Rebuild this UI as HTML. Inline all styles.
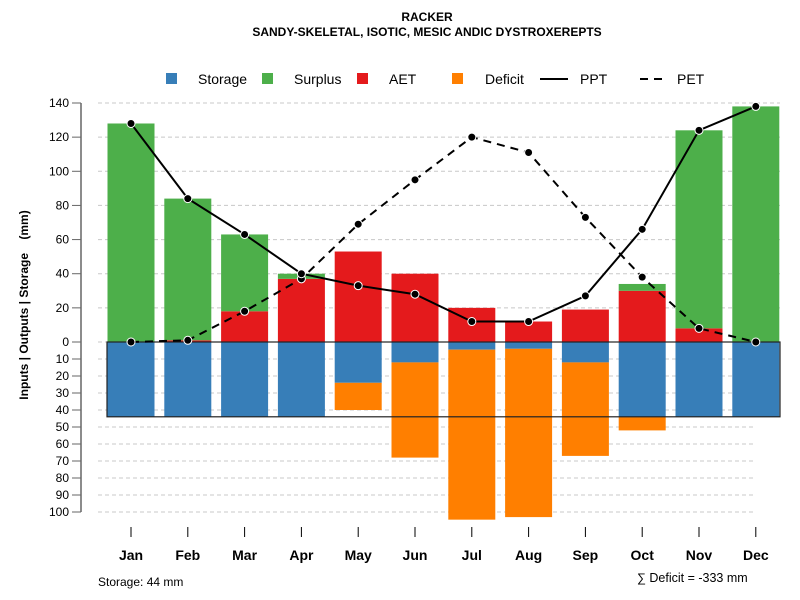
<!DOCTYPE html>
<html><head><meta charset="utf-8"><style>
body{margin:0;background:#fff}
svg{font-family:"Liberation Sans",sans-serif;display:block}
</style></head><body>
<svg id="chart" width="800" height="600" viewBox="0 0 800 600">
<text x="427" y="21" text-anchor="middle" font-size="12" font-weight="bold">RACKER</text>
<text x="427" y="36" text-anchor="middle" font-size="12" font-weight="bold">SANDY-SKELETAL, ISOTIC, MESIC ANDIC DYSTROXEREPTS</text>
<g font-size="14">
<rect x="166" y="73" width="11" height="11" fill="#377EB8"/>
<text x="198" y="84">Storage</text>
<rect x="262" y="73" width="11" height="11" fill="#4DAF4A"/>
<text x="294" y="84">Surplus</text>
<rect x="357" y="73" width="11" height="11" fill="#E41A1C"/>
<text x="389" y="84">AET</text>
<rect x="452" y="73" width="11" height="11" fill="#FF7F00"/>
<text x="485" y="84">Deficit</text>
<line x1="540" y1="79" x2="568" y2="79" stroke="#000" stroke-width="2"/>
<text x="580" y="84">PPT</text>
<line x1="640" y1="79" x2="668" y2="79" stroke="#000" stroke-width="2" stroke-dasharray="8,6"/>
<text x="677" y="84">PET</text>
</g>
<g id="grid"></g><g id="bars"></g><g id="axes"></g><g id="lines"></g>
<text transform="translate(28,305) rotate(-90)" text-anchor="middle" font-size="12" font-weight="bold" style="white-space:pre" xml:space="preserve">Inputs | Outputs | Storage    (mm)</text>
<text x="98" y="586" font-size="12">Storage: 44 mm</text>
<text x="637" y="582" font-size="12.5">∑ Deficit = -333 mm</text>
</svg>
<script>
const months=["Jan","Feb","Mar","Apr","May","Jun","Jul","Aug","Sep","Oct","Nov","Dec"];
const ppt=[128,84,63,40,33,28,12,12,27,66,124,138];
const pet=[0,1,18,37,69,95,120,111,73,38,8,0];
const aet=[0,1,18,37,53,40,20,12,19,30,8,0];
const surplus=[128,83,45,3,0,0,0,0,0,4,116,138];
const storage=[44,44,44,44,24,12,4.5,4,12,44,44,44];
const deficit=[0,0,0,0,16,56,100,99,55,8,0,0];
const topTicks=[0,20,40,60,80,100,120,140];
const botTicks=[10,20,30,40,50,60,70,80,90,100];
const storageCap=44;
const NS="http://www.w3.org/2000/svg";
const y0=342,k=239/140;
const yUp=v=>y0-v*k, yDn=v=>y0+v*1.7;
const xc=i=>131+i*56.8, bw=47;
function mk(t,a,p){const e=document.createElementNS(NS,t);for(const n in a)e.setAttribute(n,a[n]);document.getElementById(p).appendChild(e);return e;}
topTicks.forEach(v=>{
 const g=mk("line",{x1:98,x2:780,y1:yUp(v),y2:yUp(v),stroke:"#c8c8c8","stroke-dasharray":"4,3"},"grid");
 
 
 const t=mk("line",{x1:72,x2:81,y1:yUp(v),y2:yUp(v),stroke:"#666"},"axes");
 
 
 const l=mk("text",{x:69,y:yUp(v)+4,"text-anchor":"end","font-size":12},"axes");l.textContent=v;
 
 
});
botTicks.forEach(v=>{
 const g=mk("line",{x1:98,x2:755,y1:yDn(v),y2:yDn(v),stroke:"#c8c8c8","stroke-dasharray":"4,3"},"grid");
 
 
 const t=mk("line",{x1:72,x2:81,y1:yDn(v),y2:yDn(v),stroke:"#666"},"axes");
 
 
 const l=mk("text",{x:69,y:yDn(v)+4,"text-anchor":"end","font-size":12},"axes");l.textContent=v;
 
 
});
const ax=mk("line",{x1:81,x2:81,y1:yUp(140),y2:yDn(100),stroke:"#666","stroke-width":1.5},"axes");


months.forEach((m,i)=>{
 const x=xc(i)-bw/2;
 const a=mk("rect",{x:x,y:yUp(aet[i]),width:bw,height:aet[i]*k,fill:"#E41A1C"},"bars");
 
 
 const s=mk("rect",{x:x,y:yUp(aet[i]+surplus[i]),width:bw,height:surplus[i]*k,fill:"#4DAF4A"},"bars");
 
 
 const st=mk("rect",{x:x,y:y0,width:bw,height:storage[i]*1.7,fill:"#377EB8"},"bars");
 
 
 const d=mk("rect",{x:x,y:yDn(storage[i]),width:bw,height:deficit[i]*1.7,fill:"#FF7F00"},"bars");
 
 
 const t=mk("line",{x1:xc(i),x2:xc(i),y1:527,y2:537,stroke:"#000"},"axes");
 
 
 const l=mk("text",{x:xc(i),y:560,"text-anchor":"middle","font-size":14,"font-weight":"bold"},"axes");l.textContent=m;
 
 
});
const box=mk("rect",{x:107,y:y0,width:673,height:storageCap*1.7,fill:"none",stroke:"#222","stroke-width":1.2},"bars");


function series(vals,name,dash){
 const p=mk("polyline",{points:vals.map((v,i)=>xc(i)+","+yUp(v)).join(" "),fill:"none",stroke:"#000","stroke-width":2,"stroke-dasharray":dash},"lines");
 
 
 vals.forEach((v,i)=>{
  const c=mk("circle",{cx:xc(i),cy:yUp(v),r:4,fill:"#000",stroke:"#fff","stroke-width":1},"lines");
  
  
 });
}
series(pet,"pet","8,6");
series(ppt,"ppt","none");
</script>
</body></html>
